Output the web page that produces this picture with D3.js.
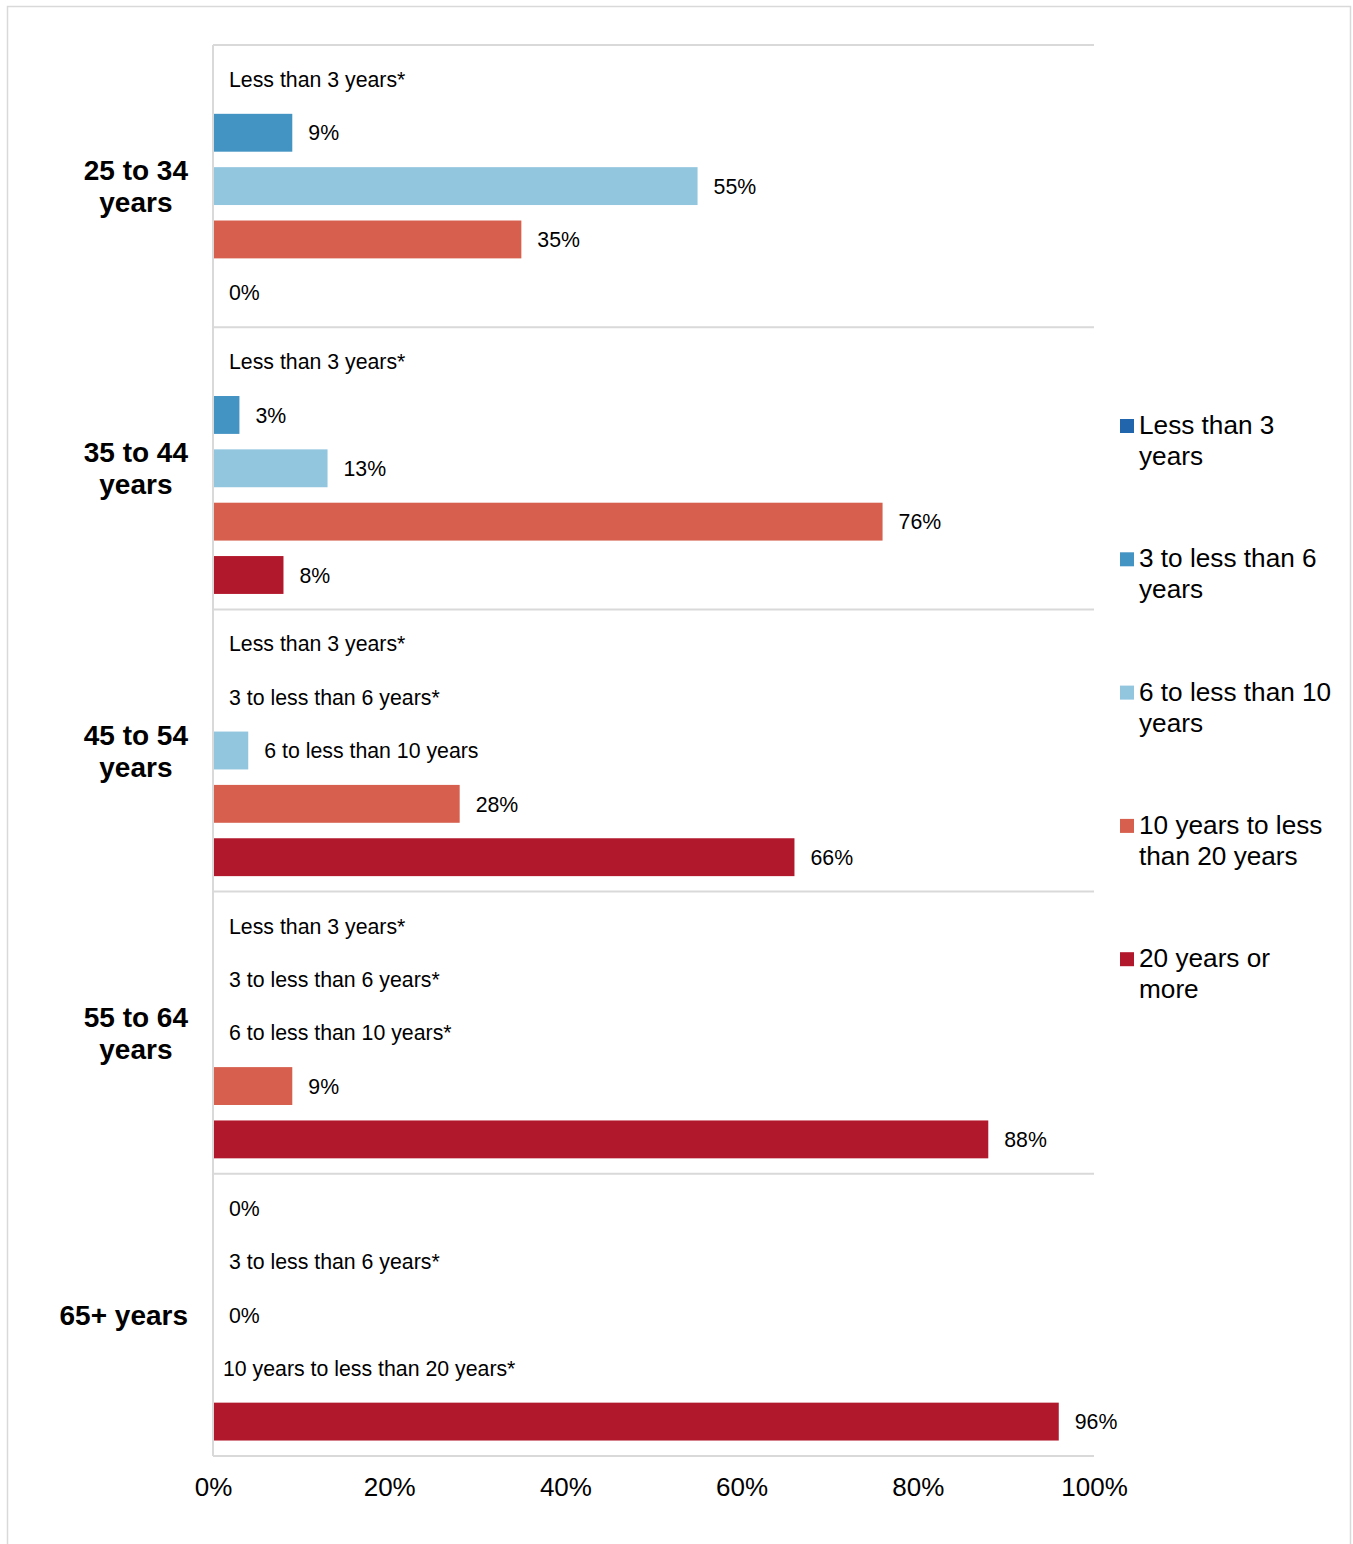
<!DOCTYPE html>
<html>
<head>
<meta charset="utf-8">
<script src="https://cdn.jsdelivr.net/npm/d3@7"></script>
<style>
  html, body { margin: 0; padding: 0; background: #fff; }
  svg { display: block; font-family: "Liberation Sans", Arial, sans-serif; }
</style>
</head>
<body>
<svg id="chart" width="1353" height="1544"></svg>
<script>
// Age groups (one block of bars each)
const ageGroups = [
  ["25 to 34", "years"],
  ["35 to 44", "years"],
  ["45 to 54", "years"],
  ["55 to 64", "years"],
  ["65+ years"]
];

// Length of residence categories
const seriesNames = [
  "Less than 3 years",
  "3 to less than 6 years",
  "6 to less than 10 years",
  "10 years to less than 20 years",
  "20 years or more"
];
const legendLines = [
  ["Less than 3", "years"],
  ["3 to less than 6", "years"],
  ["6 to less than 10", "years"],
  ["10 years to less", "than 20 years"],
  ["20 years or", "more"]
];
const seriesColors = ["#2166ac", "#4393c3", "#92c5de", "#d6604d", "#b2182b"];

// Share of each age group (percent), one array per category
const lessThan3 = [0, 0, 0, 0, 0];
const threeTo6 = [9, 3, 0, 0, 0];
const sixTo10 = [55, 13, 4, 0, 0];
const tenTo20 = [35, 76, 28, 9, 0];
const twentyPlus = [0, 8, 66, 88, 96];

// Custom data labels (null = show the percentage)
const lessThan3Labels = ["Less than 3 years*", "Less than 3 years*", "Less than 3 years*", "Less than 3 years*", null];
const threeTo6Labels = [null, null, "3 to less than 6 years*", "3 to less than 6 years*", "3 to less than 6 years*"];
const sixTo10Labels = [null, null, "6 to less than 10 years", "6 to less than 10 years*", null];
const tenTo20Labels = [null, null, null, null, "10 years to less than 20 years*"];
const twentyPlusLabels = [null, null, null, null, null];

const xTicks = [0, 20, 40, 60, 80, 100];

const seriesValues = [lessThan3, threeTo6, sixTo10, tenTo20, twentyPlus];
const seriesLabels = [lessThan3Labels, threeTo6Labels, sixTo10Labels, tenTo20Labels, twentyPlusLabels];

const svg = d3.select("#chart");
const gridColor = "#d9d9d9";

// Outer frame
svg.append("rect")
  .attr("x", 7.5).attr("y", 6.5)
  .attr("width", 1343).attr("height", 1570)
  .attr("fill", "none").attr("stroke", gridColor).attr("stroke-width", 1.5);

const plot = { left: 213, right: 1094, top: 45, bottom: 1456 };

const x = d3.scaleLinear().domain([0, 100]).range([plot.left, plot.right]);
const yGroup = d3.scaleBand().domain(d3.range(ageGroups.length)).range([plot.top, plot.bottom]).padding(0);
const ySeries = d3.scaleBand().domain(d3.range(seriesNames.length)).range([0, yGroup.bandwidth()]).paddingInner(0.29).paddingOuter(0.29);

// Group separators
svg.append("g").selectAll("line")
  .data(d3.range(ageGroups.length + 1))
  .join("line")
  .attr("x1", plot.left).attr("x2", plot.right)
  .attr("y1", i => i < ageGroups.length ? yGroup(i) : plot.bottom)
  .attr("y2", i => i < ageGroups.length ? yGroup(i) : plot.bottom)
  .attr("stroke", gridColor).attr("stroke-width", 2);

// Left axis line
svg.append("line")
  .attr("x1", plot.left).attr("x2", plot.left)
  .attr("y1", plot.top).attr("y2", plot.bottom)
  .attr("stroke", gridColor).attr("stroke-width", 2);

// Bars and labels
const cells = [];
ageGroups.forEach((g, gi) => {
  seriesNames.forEach((s, si) => {
    cells.push({ gi, si, value: seriesValues[si][gi], label: seriesLabels[si][gi] });
  });
});

const barG = svg.append("g");
barG.selectAll("rect")
  .data(cells.filter(d => d.value > 0))
  .join("rect")
  .attr("x", x(0) + 1)
  .attr("y", d => yGroup(d.gi) + ySeries(d.si))
  .attr("width", d => x(d.value) - x(0) - 1)
  .attr("height", ySeries.bandwidth())
  .attr("fill", d => seriesColors[d.si]);

// Labels sit just past the bar end; very long custom labels are
// nudged left a little so they stay clear of the plot edge.
barG.selectAll("text")
  .data(cells)
  .join("text")
  .attr("x", d => x(d.value) + 16)
  .attr("y", d => yGroup(d.gi) + ySeries(d.si) + ySeries.bandwidth() / 2)
  .attr("dy", "0.36em")
  .attr("font-size", 21.3)
  .attr("fill", "#000")
  .text(d => d.label != null ? d.label : d.value + "%")
  .each(function (d) {
    if (d.label && d.label.length > 28) d3.select(this).attr("dx", -6);
  });

// Age group labels: lines centred on each other, block right-aligned
const groupLabelG = svg.append("g");
ageGroups.forEach((lines, gi) => {
  const cy = yGroup(gi) + yGroup.bandwidth() / 2;
  const t = groupLabelG.append("text")
    .attr("font-size", 28).attr("font-weight", "bold").attr("fill", "#000")
    .attr("text-anchor", "middle");
  const spans = lines.map((ln, li) => t.append("tspan").text(ln));
  const widths = spans.map(sp => sp.node().getComputedTextLength());
  const blockW = d3.max(widths);
  const cx = 188 - blockW / 2;
  const lh = 32;
  const firstBase = cy + 10 - (lines.length - 1) * lh / 2;
  spans.forEach((sp, li) => sp.attr("x", cx).attr("y", firstBase + li * lh));
});

// X axis
const xAxis = d3.axisBottom(x)
  .tickValues(xTicks)
  .tickSize(0)
  .tickPadding(22)
  .tickFormat(d => d + "%");
const axG = svg.append("g")
  .attr("transform", `translate(0,${plot.bottom})`)
  .call(xAxis);
axG.select(".domain").remove();
axG.selectAll("text").attr("font-size", 26).attr("fill", "#000")
  .attr("font-family", "'Liberation Sans', Arial, sans-serif");

// Legend
const legend = svg.append("g").attr("transform", "translate(1120,434)");
seriesNames.forEach((name, i) => {
  const item = legend.append("g").attr("transform", `translate(0,${i * 133.3})`);
  item.append("rect")
    .attr("x", 0).attr("y", -15).attr("width", 14).attr("height", 14)
    .attr("fill", seriesColors[i]);
  const t = item.append("text").attr("font-size", 26.2).attr("fill", "#000");
  legendLines[i].forEach((ln, li) => {
    t.append("tspan").attr("x", 19).attr("y", li * 31).text(ln);
  });
});
</script>
</body>
</html>
